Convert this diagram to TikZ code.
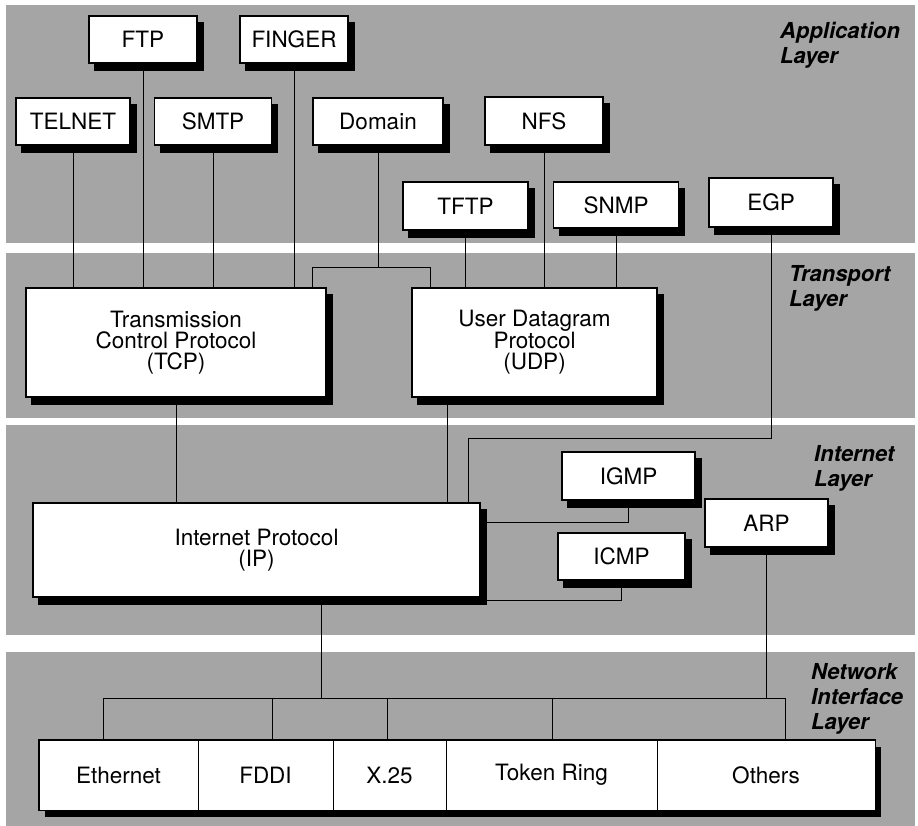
\documentclass[tikz,border=0pt]{standalone}
\usepackage{fontspec}
\setmainfont{TeX Gyre Heros}

\definecolor{bandgray}{RGB}{165,165,165}

\pgfdeclarelayer{bands}
\pgfdeclarelayer{shade}
\pgfsetlayers{bands,shade,main}

\tikzset{
    proto/.style={draw, fill=white, line width=1.8pt, inner sep=0pt, align=center,
        font=\fontsize{22.5}{21}\selectfont},
    netbox/.style={draw, fill=white, line width=0.9pt, inner sep=0pt,
        minimum height=70pt, font=\fontsize{22.5}{21}\selectfont},
    band/.style={fill=bandgray},
    shadowbox/.style={fill=black},
    layer/.style={anchor=north west, inner sep=0pt, align=left,
        font=\fontsize{22}{25}\selectfont\bfseries\itshape},
    link/.style={line width=0.9pt}
}

\begin{document}
\begin{tikzpicture}[x=1pt, y=-1pt]
    \useasboundingbox (0,0) rectangle (918,826);

    % layer bands
    \begin{pgfonlayer}{bands}
    \fill[band] (6,5) rectangle (915,243);
    \fill[band] (6,253) rectangle (915,418);
    \fill[band] (6,425) rectangle (915,635);
    \fill[band] (6,652) rectangle (915,826);
    \end{pgfonlayer}

    \node[layer] (lapp) at (780,22) {Application\\Layer};
    \node[layer] (ltrans) at (789,265) {Transport\\Layer};
    \node[layer] (linet) at (814,445) {Internet\\Layer};
    \node[layer] (lnet) at (811,663) {Network\\Interface\\Layer};

    % application layer
    \node[proto, minimum width=108pt, minimum height=47pt] (ftp) at (143,39.5) {FTP};
    \node[proto, minimum width=108pt, minimum height=47pt] (finger) at (294,39.5) {FINGER};
    \node[proto, minimum width=114pt, minimum height=47pt] (telnet) at (73,121.5) {TELNET};
    \node[proto, minimum width=117pt, minimum height=47pt] (smtp) at (213,121.5) {SMTP};
    \node[proto, minimum width=130pt, minimum height=47pt] (domain) at (378,121.5) {Domain};
    \node[proto, minimum width=118pt, minimum height=48pt] (nfs) at (544,121) {NFS};
    \node[proto, minimum width=125pt, minimum height=48pt] (tftp) at (465.5,206) {TFTP};
    \node[proto, minimum width=125pt, minimum height=46pt] (snmp) at (616,205) {SNMP};
    \node[proto, minimum width=124pt, minimum height=49pt] (egp) at (771,202.5) {EGP};

    % transport layer
    \node[proto, minimum width=300pt, minimum height=109pt] (tcp) at (176,342.5)
        {Transmission\\Control Protocol\\(TCP)};
    \node[proto, minimum width=245pt, minimum height=109pt] (udp) at (534.5,342.5)
        {User Datagram\\Protocol\\(UDP)};

    % internet layer
    \node[proto, minimum width=447pt, minimum height=94pt] (ip) at (256.5,550)
        {Internet Protocol\\(IP)};
    \node[proto, minimum width=133pt, minimum height=48pt] (igmp) at (628.5,476) {IGMP};
    \node[proto, minimum width=127pt, minimum height=47pt] (icmp) at (621.5,556.5) {ICMP};
    \node[proto, minimum width=123pt, minimum height=48pt] (arp) at (766.5,523) {ARP};

    % network interface layer
    \node[netbox, minimum width=159pt] (eth) at (118.5,775) {Ethernet};
    \node[netbox, minimum width=135pt] (fddi) at (265.5,775) {FDDI};
    \node[netbox, minimum width=113pt] (xtf) at (389.5,775) {X.25};
    \node[netbox, minimum width=211pt] (tring) at (551.5,775) {Token Ring};
    \node[netbox, minimum width=218pt] (others) at (766,775) {Others};
    \draw[line width=1.8pt] (eth.north west) rectangle (others.south east);

    % shadows
    \begin{pgfonlayer}{shade}
    \foreach \n in {ftp,finger,telnet,smtp,domain,nfs,tftp,snmp,egp,tcp,udp,ip,igmp,icmp,arp}
        \fill[shadowbox] ([shift={(6pt,-7pt)}]\n.south west) rectangle ([shift={(6pt,-7pt)}]\n.north east);
    \fill[shadowbox] ([shift={(6pt,-7pt)}]eth.south west) rectangle ([shift={(6pt,-7pt)}]others.north east);
    \end{pgfonlayer}

    % connections
    \foreach \n in {telnet,ftp,smtp,finger}
        \draw[link] (\n.south) -- (\n.south |- tcp.north);
    \foreach \n in {tftp,nfs,snmp}
        \draw[link] (\n.south) -- (\n.south |- udp.north);

    \coordinate (domL) at (312,267);
    \coordinate (domR) at (430,267);
    \draw[link] (domain.south) -- (domain.south |- domL);
    \draw[link] (domL |- tcp.north) -- (domL) -- (domR) -- (domR |- udp.north);

    \draw[link] (tcp.south) -- (tcp.south |- ip.north);
    \coordinate (udpx) at (447,0);
    \draw[link] (udp.south -| udpx) -- (udpx |- ip.north);
    \coordinate (egpx) at (468,438);
    \draw[link] (egp.south) |- (egpx) -- (egpx |- ip.north);

    \coordinate (igmpy) at (0,522);
    \coordinate (icmpy) at (0,600);
    \draw[link] (igmp.south) |- (ip.east |- igmpy);
    \draw[link] (icmp.south) |- (ip.east |- icmpy);

    \coordinate (ipx) at (321,698);
    \coordinate (busL) at (103,698);
    \coordinate (busR) at (785,698);
    \draw[link] (ip.south -| ipx) -- (ipx);
    \draw[link] (busL) -- (busR);
    \foreach \x/\n in {103/eth,272/fddi,387/xtf,552/tring,785/others}
        \draw[link] (\x,698) -- (\n.north -| \x,0);
    \draw[link] (arp.south) -- (arp.south |- busR);
\end{tikzpicture}
\end{document}
